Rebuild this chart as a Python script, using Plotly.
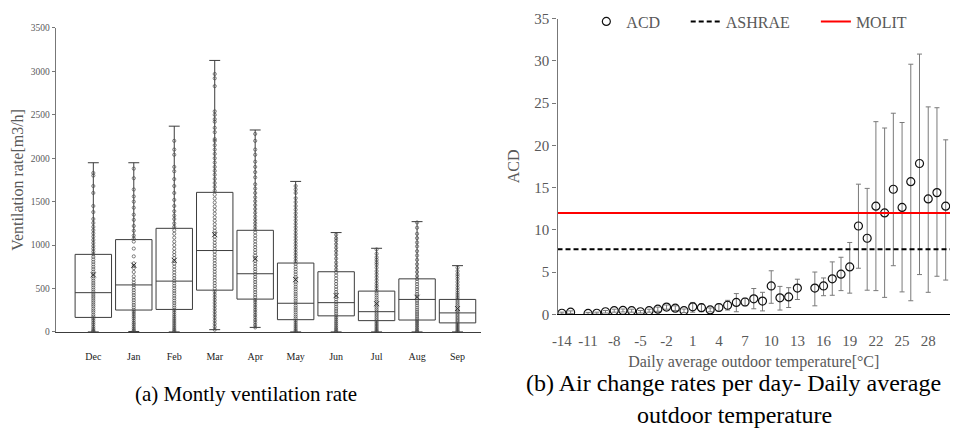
import plotly.graph_objects as go

# ---------------- (a) monthly ventilation rate ----------------
months = ["Dec", "Jan", "Feb", "Mar", "Apr", "May", "Jun", "Jul", "Aug", "Sep"]
q1 = [167, 252, 259, 481, 378, 141, 185, 130, 137, 104]
median = [452, 541, 585, 937, 670, 330, 337, 233, 374, 219]
q3 = [893, 1063, 1193, 1607, 1170, 793, 693, 470, 611, 374]
lower_fence = [0, 5, 0, 26, 52, 0, 0, 0, 0, 0]
upper_fence = [1948, 1948, 2369, 3126, 2325, 1733, 1144, 963, 1270, 763]
means = [657, 768, 824, 1120, 843, 602, 418, 325, 399, 269]

pts_dec = [0, 8, 22, 41, 63, 88, 110, 135, 158, 176, 198, 225, 247, 270, 296, 318,
           342, 365, 390, 412, 436, 461, 487, 512, 538, 563, 590, 615, 641, 668, 694,
           722, 750, 778, 806, 835, 864, 893, 925, 958, 990, 1025, 1060, 1098, 1135,
           1172, 1210, 1255, 1300, 1380, 1450, 1600, 1680, 1800, 1830]
pts_jan = [5, 18, 37, 60, 84, 105, 131, 157, 180, 206, 231, 255, 282, 310, 338, 366,
           395, 424, 452, 481, 512, 540, 568, 601, 640, 690, 735, 760, 790, 870, 960,
           1040, 1075, 1110, 1165, 1220, 1290, 1350, 1430, 1500, 1560, 1640, 1770, 1880]
pts_feb = [0, 14, 33, 55, 78, 102, 126, 150, 175, 199, 226, 252, 279, 305, 333, 360,
           388, 417, 445, 473, 502, 531, 560, 590, 620, 652, 685, 718, 752, 785, 818,
           850, 885, 920, 958, 1000, 1040, 1085, 1130, 1170, 1210, 1250, 1300, 1340,
           1390, 1450, 1520, 1600, 1680, 1760, 1850, 1900, 2040, 2100, 2200]
pts_mar = [26, 60, 95, 130, 165, 198, 232, 266, 300, 334, 368, 400, 432, 465, 497,
           530, 562, 595, 628, 660, 693, 726, 758, 790, 824, 856, 890, 924, 958, 992,
           1026, 1062, 1098, 1130, 1165, 1200, 1240, 1280, 1320, 1362, 1404, 1446,
           1490, 1535, 1580, 1625, 1670, 1715, 1762, 1810, 1855, 1900, 1950, 2000,
           2050, 2100, 2150, 2200, 2220, 2300, 2350, 2420, 2450, 2500, 2540, 2830,
           2920, 2970]
pts_apr = [52, 80, 110, 138, 168, 196, 226, 255, 284, 313, 342, 370, 400, 428, 458,
           487, 516, 545, 575, 604, 634, 664, 694, 724, 755, 786, 817, 848, 880, 912,
           944, 976, 1008, 1042, 1075, 1110, 1145, 1180, 1215, 1252, 1290, 1330, 1372,
           1415, 1460, 1505, 1550, 1600, 1650, 1700, 1780, 1840, 1900, 1960, 2040,
           2100, 2200, 2280]
pts_may = [0, 15, 35, 58, 80, 104, 128, 152, 176, 200, 226, 252, 277, 303, 330, 357,
           383, 410, 437, 464, 492, 520, 548, 576, 605, 633, 662, 692, 722, 752, 783,
           815, 848, 882, 915, 950, 985, 1020, 1056, 1093, 1130, 1168, 1206, 1245,
           1285, 1325, 1366, 1408, 1450, 1495, 1540, 1600, 1640, 1680]
pts_jun = [0, 14, 32, 52, 74, 96, 118, 142, 165, 190, 214, 240, 266, 292, 318, 346,
           374, 402, 430, 460, 490, 520, 552, 584, 616, 650, 684, 720, 760, 800, 845,
           890, 930, 970, 1010, 1050, 1080, 1120]
pts_jul = [0, 12, 27, 44, 62, 80, 98, 117, 136, 155, 175, 195, 215, 236, 258, 280,
           302, 325, 348, 372, 396, 421, 446, 472, 500, 530, 560, 595, 630, 665, 700,
           740, 775, 800, 830, 860, 900, 950]
pts_aug = [0, 13, 30, 50, 70, 92, 114, 136, 158, 182, 206, 230, 255, 280, 306, 332,
           358, 384, 410, 437, 465, 493, 521, 550, 580, 610, 645, 690, 735, 780, 830,
           880, 930, 985, 1030, 1080, 1130, 1200, 1260]
pts_sep = [0, 10, 24, 40, 56, 72, 89, 106, 123, 140, 158, 176, 194, 213, 232, 252,
           272, 292, 313, 334, 356, 378, 400, 425, 450, 478, 508, 540, 575, 610, 640,
           665, 700, 740]
month_points = [pts_dec, pts_jan, pts_feb, pts_mar, pts_apr,
                pts_may, pts_jun, pts_jul, pts_aug, pts_sep]

vent_ticks = [0, 500, 1000, 1500, 2000, 2500, 3000, 3500]

# ---------------- (b) ACD vs outdoor temperature ----------------
temps = [-14, -13, -11, -10, -9, -8, -7, -6, -5, -4, -3, -2, -1, 0, 1, 2, 3, 4, 5, 6,
         7, 8, 9, 10, 11, 12, 13, 15, 16, 17, 18, 19, 20, 21, 22, 23, 24, 25, 26, 27,
         28, 29, 30]
acd = [0.12, 0.25, 0.1, 0.12, 0.3, 0.42, 0.45, 0.42, 0.3, 0.42, 0.6, 0.85, 0.72,
       0.42, 0.88, 0.78, 0.52, 0.8, 1.07, 1.4, 1.45, 1.83, 1.56, 3.35, 1.95, 2.05,
       3.1, 3.1, 3.35, 4.2, 4.75, 5.6, 10.45, 9.0, 12.8, 12.0, 14.8, 12.65, 15.7,
       17.85, 13.65, 14.4, 12.8]
acd_high = [0.25, 0.4, 0.22, 0.25, 0.45, 0.6, 0.62, 0.6, 0.45, 0.6, 0.85, 1.1, 1.0,
            0.62, 1.4, 1.2, 0.75, 1.2, 1.65, 2.45, 1.9, 3.05, 2.6, 5.15, 3.3, 3.15,
            4.15, 5.0, 4.3, 6.2, 6.75, 8.5, 15.4, 14.9, 22.8, 22.05, 23.8, 22.7, 29.6,
            30.8, 24.55, 24.45, 20.65]
acd_low = [0.02, 0.1, 0.0, 0.02, 0.15, 0.25, 0.28, 0.25, 0.15, 0.25, 0.35, 0.6,
           0.45, 0.2, 0.25, 0.3, 0.3, 0.4, 0.5, 0.3, 1.0, 0.65, 0.4, 1.3, 0.5, 0.8,
           1.75, 1.0, 2.2, 2.25, 2.8, 2.5, 5.45, 2.85, 2.8, 2.0, 5.75, 2.65, 1.6, 4.7,
           2.6, 4.5, 4.05]
ashrae_level = 7.7
molit_level = 12.0
temp_ticks = [-14, -11, -8, -5, -2, 1, 4, 7, 10, 13, 16, 19, 22, 25, 28]
temp_range = [-14.5, 30.5]

W, H = 956, 445
SERIF = "Liberation Serif"
GREY_TXT = "#595959"


def px_x(p):
    return p / W


def px_y(p):
    return (H - p) / H


fig = go.Figure()

# box outlines from the precomputed quartiles and whisker ends
fig.add_trace(go.Box(
    x=list(range(len(months))), q1=q1, median=median, q3=q3,
    lowerfence=lower_fence, upperfence=upper_fence,
    width=0.9, whiskerwidth=0.3, boxpoints=False,
    line=dict(color="#3c3c3c", width=1), fillcolor="rgba(0,0,0,0)",
    xaxis="x", yaxis="y", showlegend=False, hoverinfo="skip"))

# individual observations along each month's centre line
px_list, py_list = [], []
for i, vals in enumerate(month_points):
    px_list += [i] * len(vals)
    py_list += vals
fig.add_trace(go.Scatter(
    x=px_list, y=py_list, mode="markers",
    marker=dict(symbol="circle-open", size=3.2, color="#4a4a4a", line=dict(width=0.7)),
    xaxis="x", yaxis="y", showlegend=False))

# monthly mean markers
fig.add_trace(go.Scatter(
    x=list(range(len(months))), y=means, mode="markers",
    marker=dict(symbol="x-thin-open", size=5, color="#333", line=dict(width=1)),
    xaxis="x", yaxis="y", showlegend=False))

# ACD with asymmetric error bars
err_plus = [h - m for h, m in zip(acd_high, acd)]
err_minus = [m - l for m, l in zip(acd, acd_low)]
fig.add_trace(go.Scatter(
    x=temps, y=acd, mode="markers", name="ACD",
    marker=dict(symbol="circle-open", size=8, color="#111", line=dict(width=1.2)),
    error_y=dict(type="data", symmetric=False, array=err_plus, arrayminus=err_minus,
                 color="#7a7a7a", thickness=1, width=2.5),
    xaxis="x2", yaxis="y2", legend="legend"))

fig.add_trace(go.Scatter(
    x=temp_range, y=[ashrae_level, ashrae_level], mode="lines", name="ASHRAE",
    line=dict(color="black", width=2, dash="5px,3px"),
    xaxis="x2", yaxis="y2", legend="legend2"))
fig.add_trace(go.Scatter(
    x=temp_range, y=[molit_level, molit_level], mode="lines", name="MOLIT",
    line=dict(color="#ff0000", width=2),
    xaxis="x2", yaxis="y2", legend="legend3"))

legend_common = dict(orientation="h", yanchor="middle", xanchor="left",
                     bgcolor="rgba(0,0,0,0)", borderwidth=0,
                     font=dict(family=SERIF, size=16, color=GREY_TXT))


def caption(text, x, y, size):
    return dict(text=text, x=px_x(x), y=px_y(y), xref="paper", yref="paper",
                xanchor="center", yanchor="middle", showarrow=False,
                font=dict(family=SERIF, size=size, color="black"))


fig.update_layout(
    width=W, height=H, margin=dict(l=0, r=0, t=0, b=0),
    paper_bgcolor="white", plot_bgcolor="white",
    xaxis=dict(domain=[px_x(50), px_x(478)], range=[-0.93, 9.58], anchor="y",
               tickvals=list(range(len(months))), ticktext=months,
               ticks="outside", ticklen=15, tickcolor="rgba(0,0,0,0)",
               tickfont=dict(family=SERIF, size=10, color="#222"),
               showline=True, linecolor="#3c3c3c", linewidth=1,
               showgrid=False, zeroline=False),
    yaxis=dict(domain=[px_y(336), px_y(20.7)], range=[0, 3500], anchor="x",
               tickvals=vent_ticks, ticks="outside", ticklen=3, tickcolor="#777",
               tickfont=dict(family=SERIF, size=9.5, color=GREY_TXT),
               showline=True, linecolor="#777", linewidth=1,
               showgrid=False, zeroline=False,
               title=dict(text="Ventilation rate[m3/h]", standoff=3,
                          font=dict(family=SERIF, size=16, color=GREY_TXT))),
    xaxis2=dict(domain=[px_x(555), px_x(950)], range=temp_range, anchor="y2",
                tickvals=temp_ticks, ticktext=[str(t) for t in temp_ticks],
                ticks="outside", ticklen=13, tickcolor="rgba(0,0,0,0)",
                tickfont=dict(family=SERIF, size=15, color=GREY_TXT),
                showline=True, linecolor="black", linewidth=1.3,
                showgrid=False, zeroline=False,
                title=dict(text="Daily average outdoor temperature[°C]", standoff=7,
                           font=dict(family=SERIF, size=16, color=GREY_TXT))),
    yaxis2=dict(domain=[px_y(317.7), px_y(11)], range=[0, 35], anchor="x2",
                tickvals=[0, 5, 10, 15, 20, 25, 30, 35], ticks="outside", ticklen=4,
                tickcolor="#777",
                tickfont=dict(family=SERIF, size=15, color=GREY_TXT),
                showline=True, linecolor="#777", linewidth=1.3,
                showgrid=False, zeroline=False,
                title=dict(text="ACD", standoff=10,
                           font=dict(family=SERIF, size=16, color=GREY_TXT))),
    legend=dict(x=px_x(584), y=px_y(14), **legend_common),
    legend2=dict(x=px_x(684), y=px_y(14), **legend_common),
    legend3=dict(x=px_x(815), y=px_y(14), **legend_common),
    annotations=[
        caption("(a) Montly ventilation rate", 242, 400, 21),
        caption("(b) Air change rates per day- Daily average", 732, 389, 24),
        caption("outdoor temperature", 733, 422, 24),
    ],
)

fig.write_html("out.html")
